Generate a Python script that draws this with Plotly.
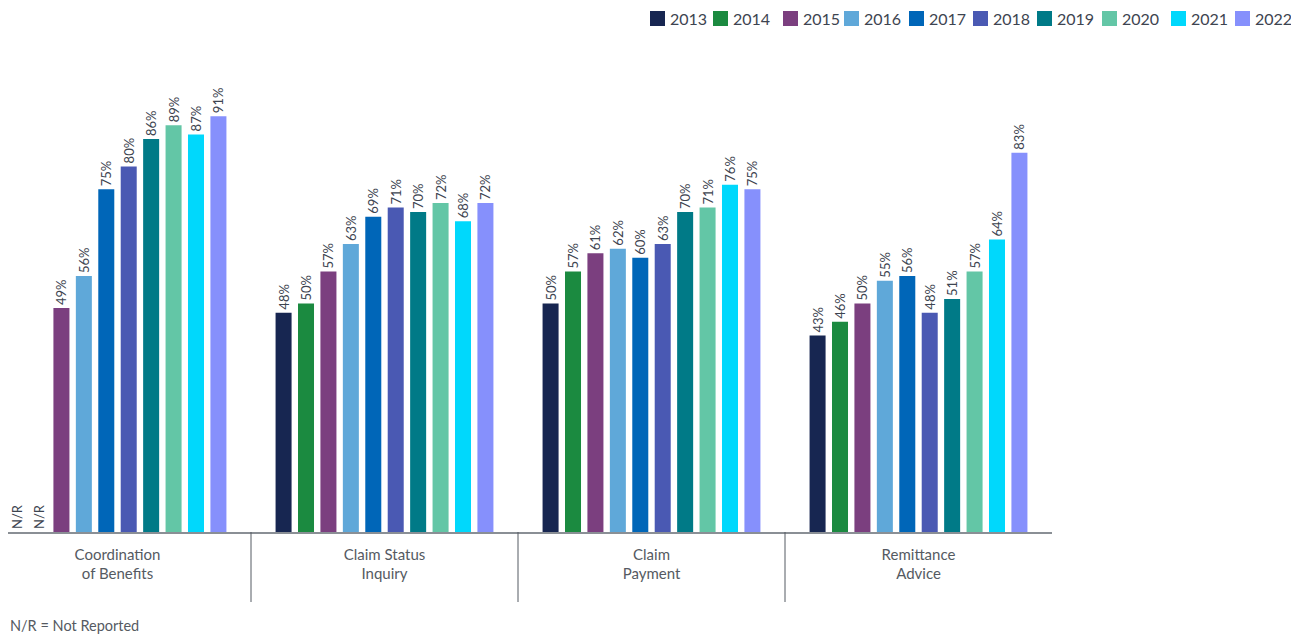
import plotly.graph_objects as go

categories = ["Coordination<br>of Benefits", "Claim Status<br>Inquiry", "Claim<br>Payment", "Remittance<br>Advice"]
years = ["2013", "2014", "2015", "2016", "2017", "2018", "2019", "2020", "2021", "2022"]
# values per year across categories (None = N/R)
v2013 = [None, 48, 50, 43]
v2014 = [None, 50, 57, 46]
v2015 = [49, 57, 61, 50]
v2016 = [56, 63, 62, 55]
v2017 = [75, 69, 60, 56]
v2018 = [80, 71, 63, 48]
v2019 = [86, 70, 70, 51]
v2020 = [89, 72, 71, 57]
v2021 = [87, 68, 76, 64]
v2022 = [91, 72, 75, 83]
series = [v2013, v2014, v2015, v2016, v2017, v2018, v2019, v2020, v2021, v2022]
colors = ["#172651", "#1b8a40", "#7b3f7f", "#5fa8d9", "#0066b8",
          "#4a59b3", "#007a87", "#63c6a6", "#00d8fc", "#8690fc"]

FONT = "Lato"
TXT = "#3d4450"
LBL = "#555a62"

# page offset (body margin) and plot geometry in figure pixels
OFF = 8
W, H = 1299 - OFF, 634 - OFF
L, T, PW, PH = 0, 67, 1044, 457
R, B = W - L - PW, H - T - PH


def px(xpage):
    return (xpage - OFF - L) / PW


def py(ypage):
    return (T + PH - (ypage - OFF)) / PH


fig = go.Figure()
for yr, vals, col in zip(years, series, colors):
    fig.add_trace(go.Bar(
        name=yr, x=list(range(len(categories))),
        y=[0 if v is None else v for v in vals],
        text=["N/R" if v is None else f"{v}%" for v in vals],
        textposition="outside", textangle=-90, constraintext="none",
        textfont=dict(family=FONT, size=13, color=TXT),
        cliponaxis=False, showlegend=False,
        marker=dict(color=col, line=dict(width=0)),
    ))

# separators between categories
for b in [0.5, 1.5, 2.5]:
    fig.add_shape(type="line", xref="x", yref="paper", x0=b, x1=b, y0=0, y1=py(602),
                  line=dict(color="#555b63", width=1))

# custom legend
leg_x = [650, 713, 783, 844, 909, 973, 1037, 1102, 1171, 1235]
for lx, yr, col in zip(leg_x, years, colors):
    fig.add_shape(type="rect", xref="paper", yref="paper",
                  x0=px(lx), x1=px(lx + 15), y0=py(26), y1=py(11),
                  fillcolor=col, line=dict(width=0))
    fig.add_annotation(text=yr, xref="paper", yref="paper", x=px(lx + 18), y=py(18.5),
                       xanchor="left", yanchor="middle", showarrow=False,
                       font=dict(family=FONT, size=16, color=TXT))

fig.add_annotation(text="N/R = Not Reported", xref="paper", yref="paper",
                   x=px(8), y=py(625), xanchor="left", yanchor="middle",
                   showarrow=False, font=dict(family=FONT, size=14.5, color=LBL))

fig.update_layout(
    width=W, height=H,
    margin=dict(l=L, r=R, t=T, b=B, autoexpand=False),
    barmode="group", bargap=0.16, bargroupgap=0.286,
    plot_bgcolor="white", paper_bgcolor="white",
    font=dict(family=FONT, color=TXT),
    xaxis=dict(range=[3.5 - PW / 267, 3.5], tickmode="array", tickvals=list(range(4)),
               ticktext=categories, showgrid=False, zeroline=False,
               showline=True, linecolor="#8a8f95", linewidth=1.5,
               tickfont=dict(family=FONT, size=15, color=LBL), ticks="",
               ticklabelstandoff=8, automargin=False),
    yaxis=dict(range=[0, 100], visible=False),
    showlegend=False,
)
fig.write_html("out.html")
